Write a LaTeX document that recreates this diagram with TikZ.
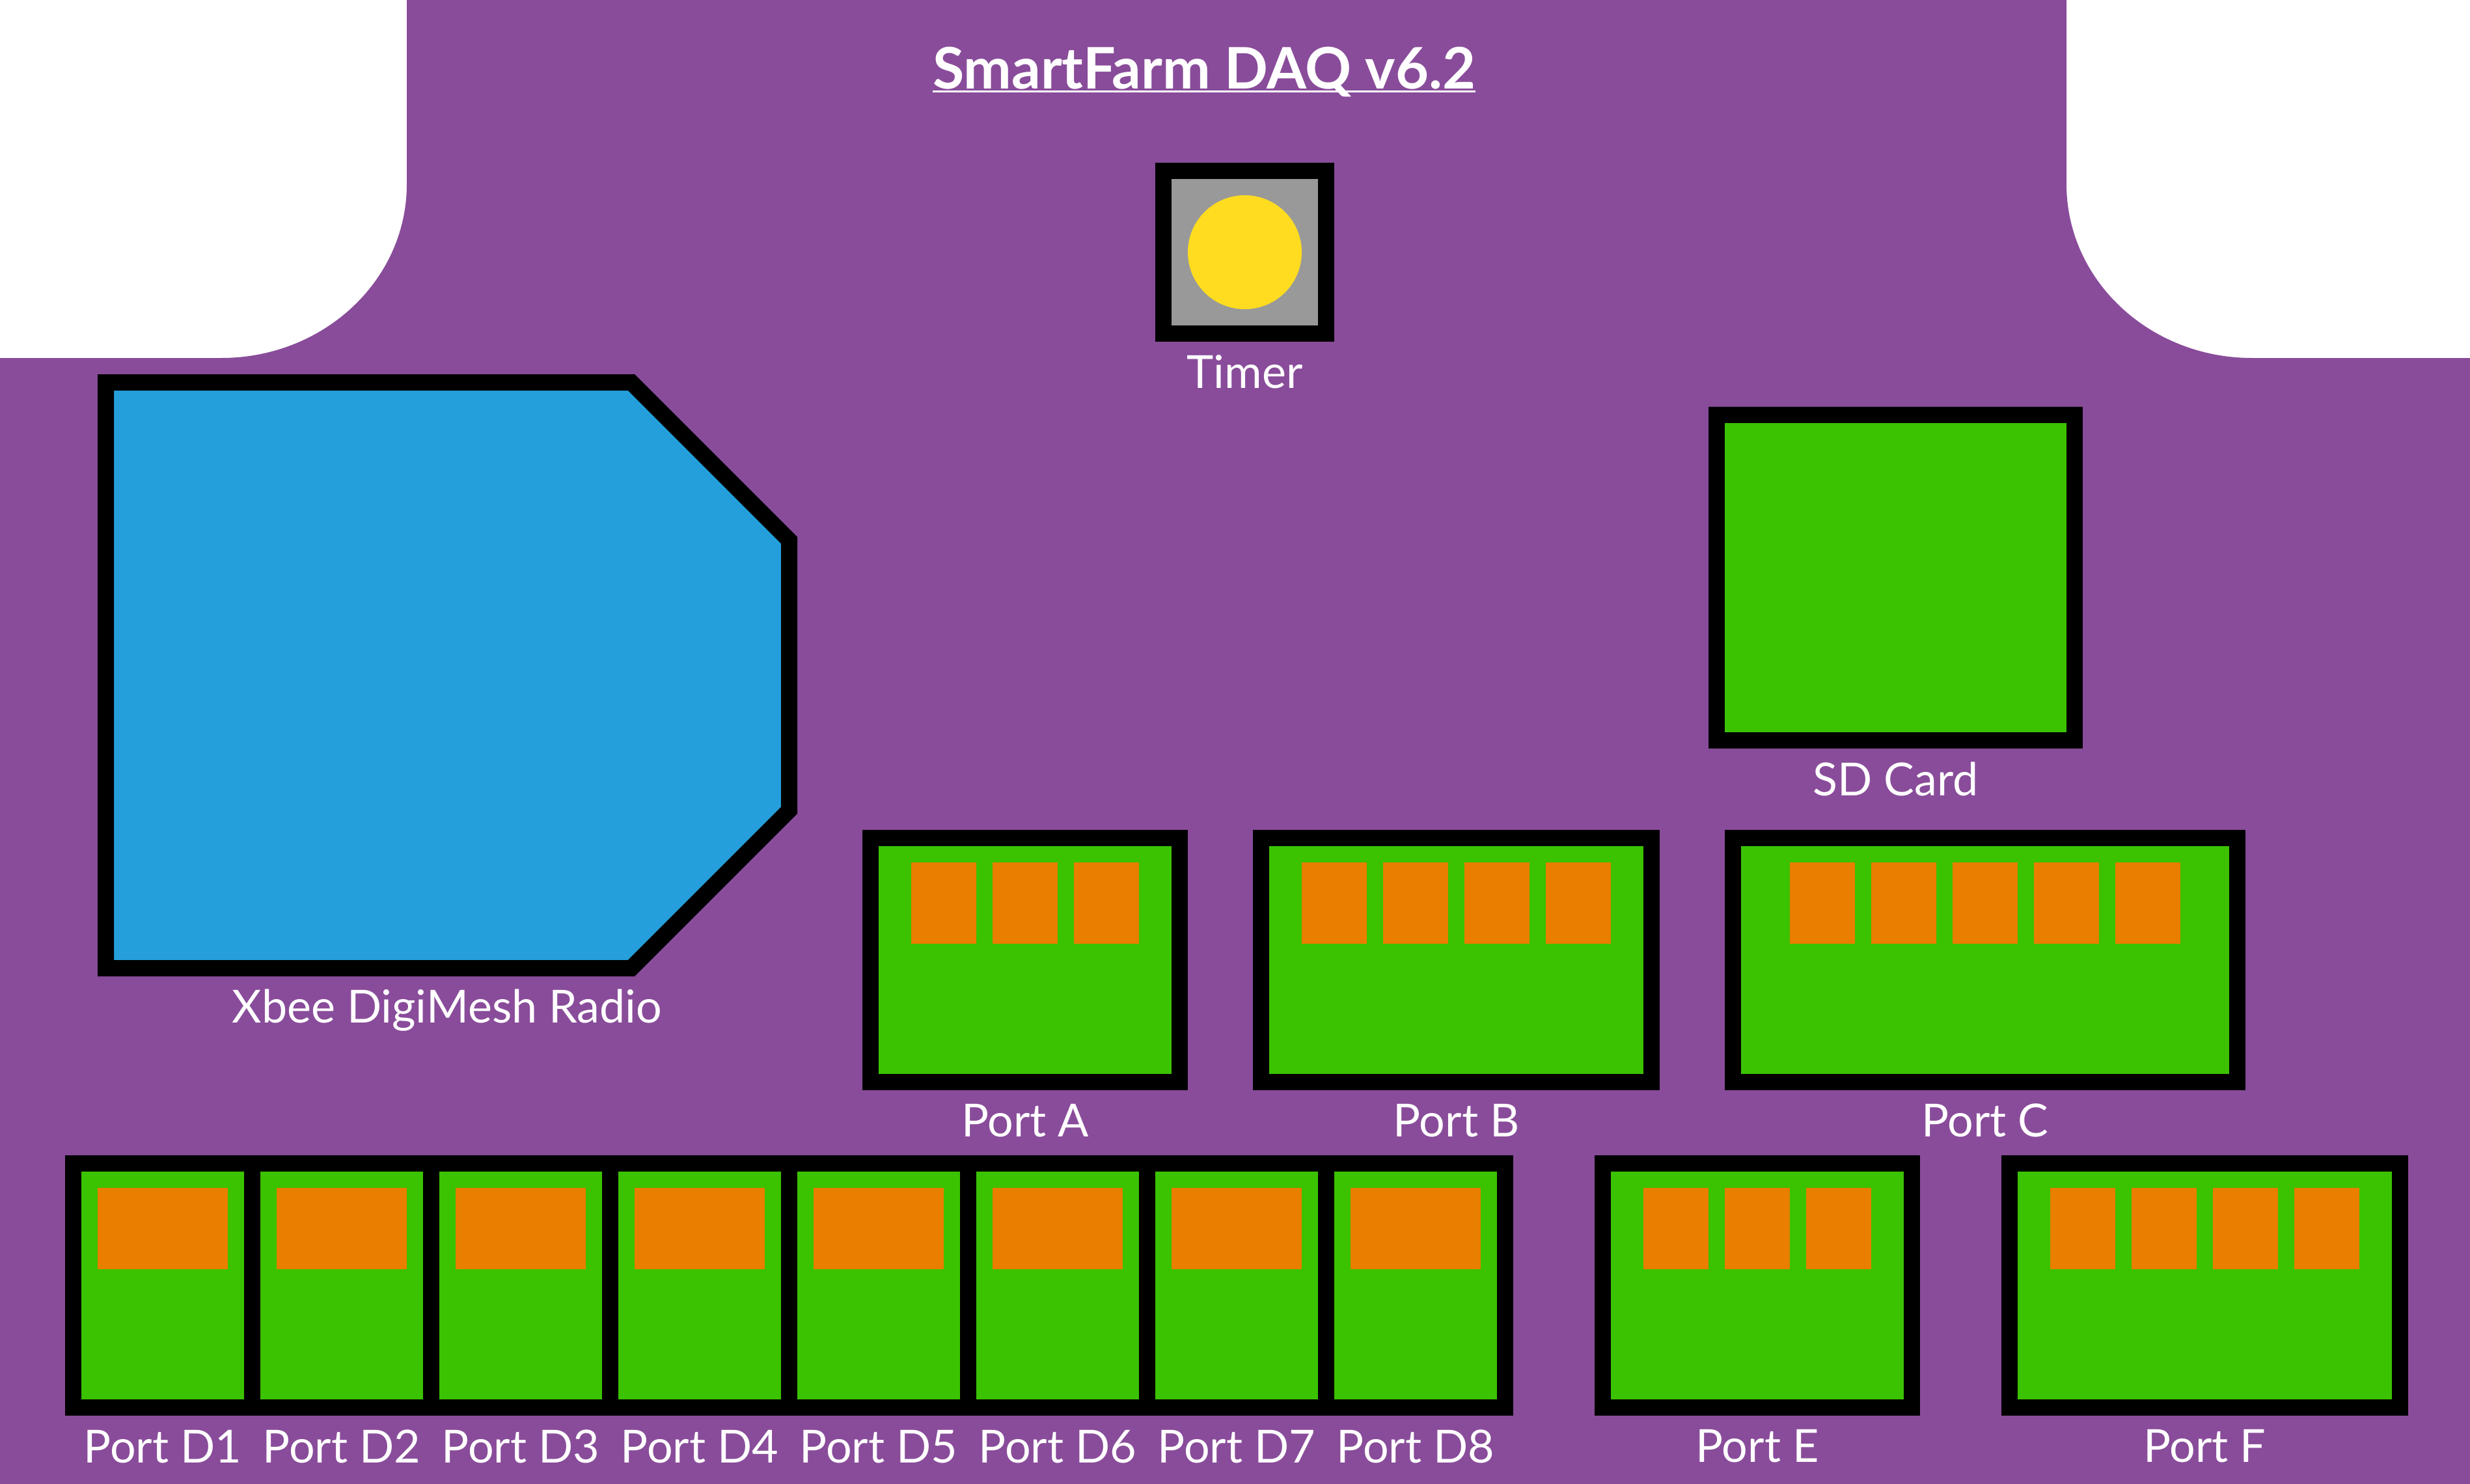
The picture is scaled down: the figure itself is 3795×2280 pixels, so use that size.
\documentclass[tikz,border=0pt]{standalone}
\usepackage{fontspec}
\setmainfont{Lato}
\usepackage{tikz}
\definecolor{BoardPurple}{HTML}{894C9A}
\definecolor{PcbGreen}{HTML}{3BC200}
\definecolor{PinOrange}{HTML}{E97E00}
\definecolor{RadioBlue}{HTML}{259FDB}
\definecolor{KnobYellow}{HTML}{FFDC20}
\definecolor{KnobGray}{HTML}{999999}
\newcommand{\lblfont}{\fontsize{70}{80}\selectfont}
\newcommand{\ttlfont}{\fontsize{88}{100}\selectfont\bfseries}

\begin{document}
\begin{tikzpicture}[x=1pt, y=-1pt,
    module/.style={rectangle, draw=black, line width=25pt, fill=PcbGreen, inner sep=0pt},
    lbl/.style={text=white, font=\lblfont, anchor=base, inner sep=0pt}]
  \fill[white] (0,0) rectangle (3795,2280);
  % board outline
  \fill[BoardPurple] (0,550) -- (340,550)
    arc[start angle=90, end angle=0, x radius=285, y radius=267] -- (625,0) -- (3175,0) -- (3175,283)
    arc[start angle=180, end angle=90, x radius=285, y radius=267] -- (3795,550) -- (3795,2280) -- (0,2280) -- cycle;
  \node[text=white, font=\ttlfont, anchor=base, inner sep=0pt] (title) at (1850,136) {SmartFarm DAQ v6.2};
  \draw[white, line width=3pt] ([yshift=-5pt]title.base west) -- ([yshift=-5pt]title.base east);
  % timer
  \node[module, fill=KnobGray, minimum size=250pt] (timer) at (1912.5,387.5) {};
  \fill[KnobYellow] (timer.center) circle (87.5);
  \node[lbl] (timerlab) at ([yshift=-71pt]timer.south) {Timer};
  % radio
  \draw[line width=25pt, line join=miter, fill=RadioBlue] (162.5,587.5) -- (970,587.5) -- (1212.5,830)
    -- (1212.5,1245) -- (970,1487.5) -- (162.5,1487.5) -- cycle;
  \node[lbl] (xbeelab) at (687,1571) {Xbee DigiMesh Radio};
  % sd card
  \node[module, minimum width=550pt, minimum height=500pt] (sd) at (2912.5,887.5) {};
  \node[lbl] (sdlab) at ([yshift=-72pt]sd.south) {SD Card};
  % ports A, B, C, E, F
  \node[module, minimum width=475pt, minimum height=375pt] (portA) at (1575,1475) {};
  \node[module, minimum width=600pt, minimum height=375pt] (portB) at (2237.5,1475) {};
  \node[module, minimum width=775pt, minimum height=375pt] (portC) at (3050,1475) {};
  \node[module, minimum width=475pt, minimum height=375pt] (portE) at (2700,1975) {};
  \node[module, minimum width=600pt, minimum height=375pt] (portF) at (3387.5,1975) {};
  \foreach \p in {A,B,C,E,F}
    \node[lbl] (lab\p) at ([yshift=-71pt]port\p.south) {Port \p};
  \foreach \px in {1400,1525,1650, 2000,2125,2250,2375, 2750,2875,3000,3125,3250}
    \fill[PinOrange] (\px,1325) rectangle +(100,125);
  \foreach \px in {2525,2650,2775, 3150,3275,3400,3525}
    \fill[PinOrange] (\px,1825) rectangle +(100,125);
  % ports D1..D8
  \foreach \k in {1,...,8}{
    \node[module, minimum width=275pt, minimum height=375pt] (portD\k) at (275*\k-25,1975) {};
    \fill[PinOrange] (275*\k-125,1825) rectangle +(200,125);
    \node[lbl] (labD\k) at ([yshift=-72pt]portD\k.south) {Port D\k};}
\end{tikzpicture}
\end{document}
